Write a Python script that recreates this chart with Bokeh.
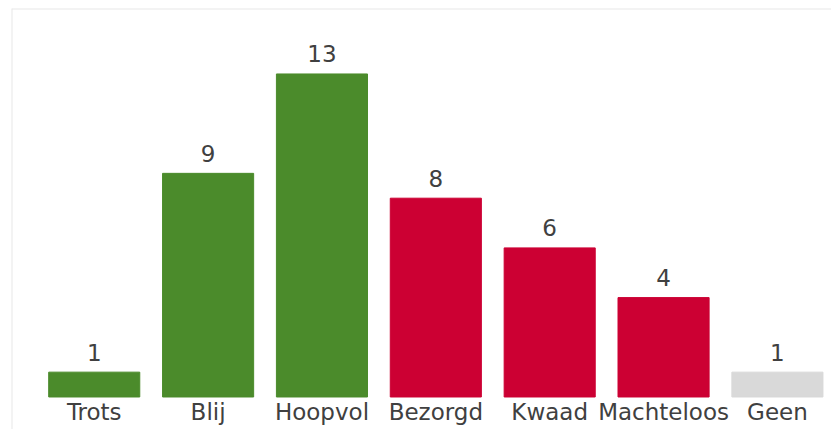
import numpy as np
from bokeh.plotting import figure
from bokeh.models import ColumnDataSource, Range1d, Span
from bokeh.core.properties import value
from bokeh.embed import file_html
from bokeh.resources import INLINE

categories = ["Trots", "Blij", "Hoopvol", "Bezorgd", "Kwaad", "Machteloos", "Geen"]
counts = [1, 9, 13, 8, 6, 4, 1]
colors = ["#4b8b2b", "#4b8b2b", "#4b8b2b", "#cc0033", "#cc0033", "#cc0033", "#d9d9d9"]

xpos = np.arange(len(categories)) + 0.5
src = ColumnDataSource(dict(x=xpos, top=counts, cat=categories, color=colors,
                            label=[str(c) for c in counts], zero=[0] * len(counts)))

p = figure(width=831, height=429, output_backend="svg", toolbar_location=None,
           x_range=Range1d(-0.2266, 6.975), y_range=Range1d(-1.308, 15.634),
           x_axis_location=None, y_axis_location=None,
           min_border_left=11, min_border_right=0, min_border_top=8, min_border_bottom=0)
p.outline_line_color = None
p.grid.visible = False
p.background_fill_color = "white"
p.border_fill_color = "white"

p.vbar(x="x", top="top", bottom=0, width=0.8, color="color", source=src)

p.text(x="x", y="top", text="label", source=src, text_align="center",
       text_baseline="alphabetic", y_offset=-20, text_font=value("DejaVu Sans"),
       text_font_size="23px", text_color="#404040")
p.text(x="x", y="zero", text="cat", source=src, text_align="center",
       text_baseline="alphabetic", y_offset=15.5, text_font=value("DejaVu Sans"),
       text_font_size="23px", text_color="#404040")

p.add_layout(Span(location=p.y_range.end, dimension="width", line_color="#e8e8e8", line_width=2))
p.add_layout(Span(location=p.x_range.start, dimension="height", line_color="#e8e8e8", line_width=2))

open("out.html", "w").write(file_html(p, INLINE))
